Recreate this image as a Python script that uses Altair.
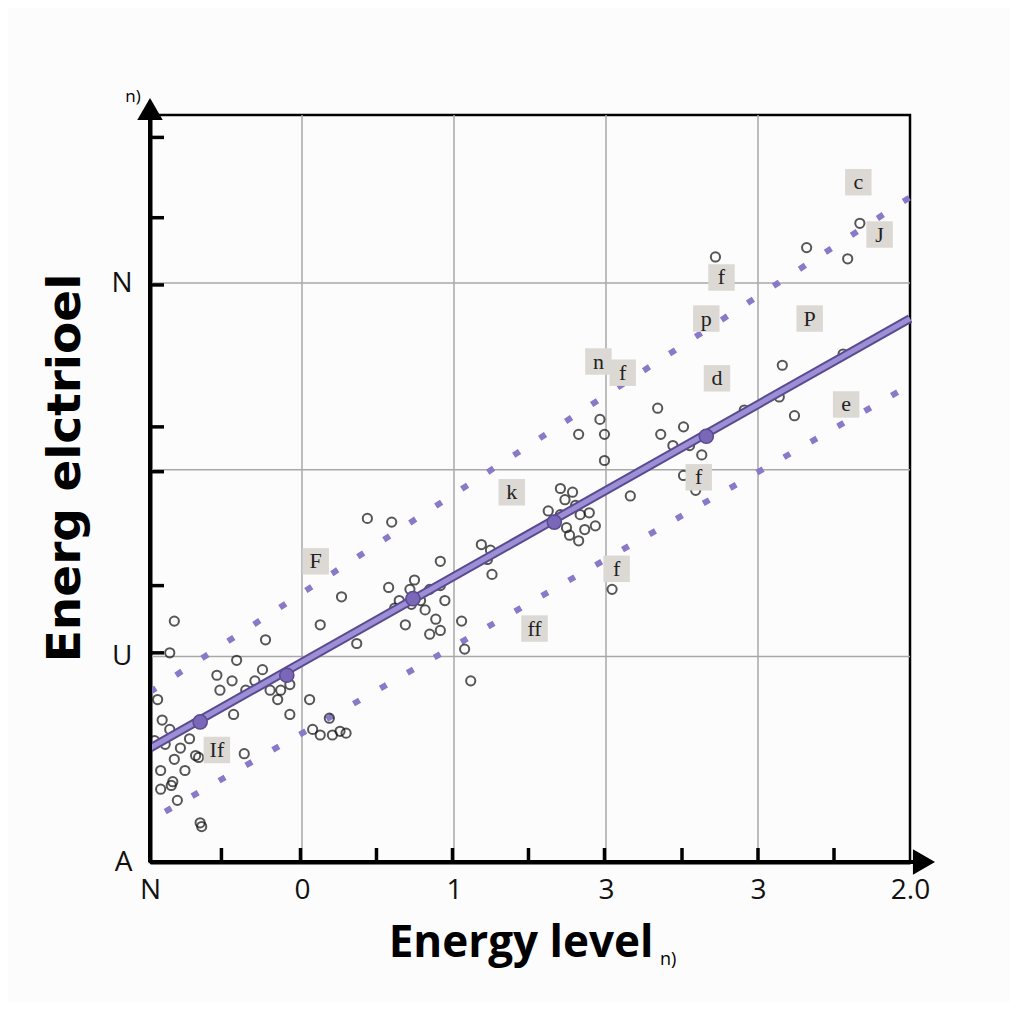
import altair as alt
import pandas as pd

# ---------------- data ----------------
pts_x = [0.16, 0.05, 0.08, 0.13, 0.03, 0.10, 0.20, 0.16, 0.07, 0.14, 0.26, 0.33, 0.30, 0.23, 0.07, 0.18,
         0.57, 0.76, 0.69, 0.74, 0.79, 0.86, 0.92, 0.84, 0.63, 0.92, 0.46, 0.54, 0.13, 0.44, 0.55, 0.62, 0.32,
         1.05, 1.07, 1.12, 1.25, 1.29, 1.18, 1.12, 1.26, 1.43, 1.59, 1.36, 1.20, 0.15, 0.34,
         1.64, 1.71, 1.74, 1.78, 1.81, 1.84, 1.91, 1.94, 1.88, 1.68, 1.84, 1.91, 1.72, 1.57, 1.61,
         2.05, 2.11, 2.07, 2.24, 2.22, 2.25, 2.18, 1.91,
         2.70, 2.78, 2.73, 2.80, 2.70, 2.83, 2.89, 2.76, 2.86, 2.82, 2.93, 2.74, 2.62,
         2.96, 2.99, 2.99, 2.82, 3.04, 3.16,
         3.34, 3.36, 3.51, 3.44, 3.63, 3.55, 3.59, 3.51, 3.72, 3.91,
         4.32, 4.67, 4.59, 4.16, 4.14, 4.24, 4.56]
pts_y = [1.29, 0.87, 0.76, 0.71, 0.65, 0.63, 0.61, 0.55, 0.49, 0.41, 0.66, 0.21, 0.57, 0.49, 0.39, 0.33,
         1.08, 1.19, 0.97, 1.03, 0.92, 0.92, 0.95, 0.87, 0.92, 0.79, 0.92, 0.97, 1.12, 1.00, 0.79, 0.58, 0.56,
         0.87, 0.71, 0.68, 0.70, 0.69, 0.77, 1.27, 1.42, 1.84, 1.82, 1.17, 0.68, 0.43, 0.19,
         1.40, 1.46, 1.51, 1.40, 1.35, 1.46, 1.48, 1.40, 1.30, 1.27, 1.22, 1.24, 1.38, 1.47, 1.36,
         1.29, 0.97, 1.14, 1.67, 1.62, 1.54, 1.70, 1.61,
         2.00, 1.98, 1.94, 1.91, 1.86, 1.86, 1.87, 1.75, 1.78, 1.72, 1.80, 1.79, 1.88,
         2.37, 2.29, 2.15, 2.29, 1.46, 1.96,
         2.43, 2.29, 2.33, 2.23, 2.18, 2.23, 1.99, 2.07, 3.24, 2.42,
         3.29, 3.42, 3.23, 2.66, 2.49, 2.39, 2.72]

fit_x = [0.0, 5.0]
fit_y = [0.61, 2.91]
upper_x = [0.0, 5.0]
upper_y = [0.91, 3.56]
lower_x = [0.10, 4.97]
lower_y = [0.27, 2.54]
knot_x = [0.33, 0.90, 1.73, 2.66, 3.66]
knot_y = [0.75, 1.00, 1.41, 1.82, 2.28]

lab_text = ["c", "J", "f", "p", "P", "n", "f", "d", "e", "k", "f", "F", "f", "ff", "If"]
lab_x = [4.66, 4.80, 3.76, 3.66, 4.34, 2.95, 3.11, 3.73, 4.58, 2.38, 3.61, 1.09, 3.07, 2.53, 0.44]
lab_y = [3.64, 3.36, 3.13, 2.91, 2.91, 2.68, 2.62, 2.59, 2.45, 1.98, 2.06, 1.61, 1.57, 1.25, 0.60]

x_label_vals = [0, 1, 2, 3, 4, 5]
x_label_text = ["N", "0", "1", "3", "3", "2.0"]
y_label_vals = [0, 1.1, 3.1]
y_label_text = ["A", "U", "N"]
x_grid = [1, 2, 3, 4]
y_grid = [1.1, 2.1, 3.1]
x_ticks = [0.47, 0.99, 1.49, 1.99, 2.49, 2.99, 3.5, 4.0, 4.5]
y_ticks = [3.88, 3.45, 3.09, 2.33, 2.09, 1.48, 1.12]

x_title = "Energy level"
y_title = "Energ elctrioel"

# ---------------- build ----------------
W, H = 760, 747
xs = alt.Scale(domain=[0, 5], nice=False, zero=False)
ys = alt.Scale(domain=[0, 4], nice=False, zero=False)
PURPLE = "#8a78c8"

def expr_map(vals, texts):
    e = "''"
    for v, t in zip(vals, texts):
        e = f"(round(datum.value*100)=={round(v*100)}) ? '{t}' : " + e
    return e

scatter = pd.DataFrame({"x": pts_x, "y": pts_y})
fit = pd.DataFrame({"x": fit_x, "y": fit_y})
upper = pd.DataFrame({"x": upper_x, "y": upper_y})
lower = pd.DataFrame({"x": lower_x, "y": lower_y})
knots = pd.DataFrame({"x": knot_x, "y": knot_y})
labels = pd.DataFrame({"x": lab_x, "y": lab_y, "t": lab_text})

X = lambda: alt.X("x:Q", scale=xs, axis=alt.Axis(
    values=x_label_vals, labelExpr=expr_map(x_label_vals, x_label_text), grid=False, ticks=False,
    domainColor="black", domainWidth=4, labelFontSize=28, labelFont="Open Sans", labelColor="#111",
    labelPadding=14, title=None, labelFlush=False))
Y = lambda: alt.Y("y:Q", scale=ys, axis=alt.Axis(
    values=y_label_vals, labelExpr=expr_map(y_label_vals, y_label_text), grid=False, ticks=False,
    domainColor="black", domainWidth=4, labelFontSize=28, labelFont="Open Sans", labelColor="#111",
    labelPadding=18, title=None, labelFlush=False))

base_axes = alt.Chart(scatter).mark_point(opacity=0).encode(x=X(), y=Y())

vgrid = alt.Chart(pd.DataFrame({"x": x_grid})).mark_rule(color="#a8a8a8", strokeWidth=1.5).encode(
    x=alt.X("x:Q", scale=xs))
hgrid = alt.Chart(pd.DataFrame({"y": y_grid})).mark_rule(color="#a8a8a8", strokeWidth=1.5).encode(
    y=alt.Y("y:Q", scale=ys))

yt = alt.Chart(pd.DataFrame({"y": y_ticks})).mark_rule(color="black", strokeWidth=3.5).encode(
    y=alt.Y("y:Q", scale=ys), x=alt.value(0), x2=alt.value(14))
xt = alt.Chart(pd.DataFrame({"x": x_ticks})).mark_rule(color="black", strokeWidth=3.5).encode(
    x=alt.X("x:Q", scale=xs), y=alt.value(H), y2=alt.value(H - 14))

up_line = alt.Chart(upper).mark_line(color=PURPLE, strokeWidth=6, strokeDash=[7, 24]).encode(
    x=alt.X("x:Q", scale=xs), y=alt.Y("y:Q", scale=ys))
lo_line = alt.Chart(lower).mark_line(color=PURPLE, strokeWidth=6, strokeDash=[7, 24]).encode(
    x=alt.X("x:Q", scale=xs), y=alt.Y("y:Q", scale=ys))

pts = alt.Chart(scatter).mark_point(shape="circle", filled=False, color="#111", size=85, strokeWidth=2).encode(
    x=alt.X("x:Q", scale=xs), y=alt.Y("y:Q", scale=ys))

fit_outer = alt.Chart(fit).mark_line(color="#5a4a90", strokeWidth=9).encode(
    x=alt.X("x:Q", scale=xs), y=alt.Y("y:Q", scale=ys))
fit_inner = alt.Chart(fit).mark_line(color="#9d8fd6", strokeWidth=5).encode(
    x=alt.X("x:Q", scale=xs), y=alt.Y("y:Q", scale=ys))
knot = alt.Chart(knots).mark_point(shape="circle", filled=True, color="#7a67b8", size=200, opacity=1,
                                   stroke="#5a4a90", strokeWidth=1.5).encode(
    x=alt.X("x:Q", scale=xs), y=alt.Y("y:Q", scale=ys))

boxes = alt.Chart(labels).mark_point(shape="square", filled=True, color="#dcd9d4", size=700, opacity=1).encode(
    x=alt.X("x:Q", scale=xs), y=alt.Y("y:Q", scale=ys))
texts = alt.Chart(labels).mark_text(font="Liberation Serif", fontSize=22, color="#222", baseline="middle").encode(
    x=alt.X("x:Q", scale=xs), y=alt.Y("y:Q", scale=ys), text="t:N")

y_arrow = alt.Chart(pd.DataFrame({"a": [0]})).mark_point(shape="triangle-up", filled=True, color="black",
                                                          size=650, opacity=1).encode(
    x=alt.value(0), y=alt.value(-6))
x_arrow = alt.Chart(pd.DataFrame({"a": [0]})).mark_point(shape="triangle-right", filled=True, color="black",
                                                          size=650, opacity=1).encode(
    x=alt.value(W + 14), y=alt.value(H))
y_ext = alt.Chart(pd.DataFrame({"a": [0]})).mark_rule(color="black", strokeWidth=4).encode(
    x=alt.value(0), y=alt.value(-6), y2=alt.value(H))
x_ext = alt.Chart(pd.DataFrame({"a": [0]})).mark_rule(color="black", strokeWidth=4).encode(
    x=alt.value(0), x2=alt.value(W + 10), y=alt.value(H))

ytitle = alt.Chart(pd.DataFrame({"t": [y_title]})).mark_text(
    font="DejaVu Sans", fontWeight="bold", fontSize=47, angle=270, color="black", baseline="middle").encode(
    x=alt.value(-84), y=alt.value(353), text="t:N")
xtitle = alt.Chart(pd.DataFrame({"t": [x_title]})).mark_text(
    font="Open Sans", fontWeight="bold", fontSize=44, color="black", baseline="alphabetic").encode(
    x=alt.value(371), y=alt.value(842), text="t:N")
xsub = alt.Chart(pd.DataFrame({"t": ["n)"]})).mark_text(
    font="Open Sans", fontSize=18, color="black", baseline="alphabetic", align="left").encode(
    x=alt.value(510), y=alt.value(850), text="t:N")
topn = alt.Chart(pd.DataFrame({"t": ["n)"]})).mark_text(
    font="Open Sans", fontSize=17, color="black", baseline="middle").encode(
    x=alt.value(-17), y=alt.value(-18), text="t:N")

chart = alt.layer(
    vgrid, hgrid, base_axes, up_line, lo_line, pts, fit_outer, fit_inner, knot,
    boxes, texts, yt, xt, y_ext, x_ext, y_arrow, x_arrow, ytitle, xtitle, xsub, topn
).properties(
    width=W, height=H,
    autosize=alt.AutoSizeParams(type="none"),
    padding={"left": 142, "top": 107, "right": 100, "bottom": 140},
    background="#fcfcfc",
).configure_view(stroke="black", strokeWidth=2.5)

chart.save("out.html", embed_options={"renderer": "svg", "actions": False})
